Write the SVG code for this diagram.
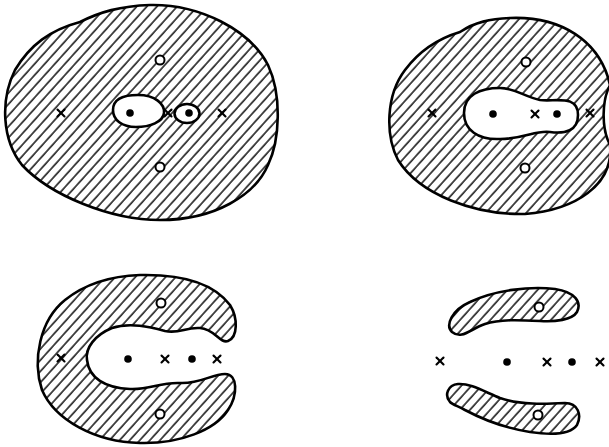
<svg xmlns="http://www.w3.org/2000/svg" xmlns:xlink="http://www.w3.org/1999/xlink" width="609" height="447" viewBox="0 0 609 447">
<defs>
<pattern id="hatch" patternUnits="userSpaceOnUse" width="7.5" height="10" patternTransform="rotate(42)">
<rect width="7.5" height="10" fill="#fff"/>
<line x1="1" y1="0" x2="1" y2="10" stroke="#000" stroke-width="1.4"/>
</pattern>
<g id="cross"><line x1="-3.5" y1="-3.5" x2="3.5" y2="3.5"/><line x1="-3.5" y1="3.5" x2="3.5" y2="-3.5"/></g>
<circle id="dot" r="3.8"/>
<circle id="ring" r="4.5"/>
</defs>
<style>
.region{fill:url(#hatch);stroke:#000;stroke-width:2.6;stroke-linejoin:round}
.hole{fill:#fff;stroke:#000;stroke-width:2.6}
.x{stroke:#000;stroke-width:2.1;stroke-linecap:round}
.d{fill:#000}
.o{fill:#fff;stroke:#000;stroke-width:2}
</style>
<g id="fig-top-left">
<path class="region" d="M 150 5 C 200 4, 250 30, 268 65 C 282 95, 280 140, 268 165 C 255 195, 215 220, 160 220 C 110 220, 50 195, 22 165 C 2 140, 0 100, 15 70 C 30 45, 50 30, 80 22 C 100 12, 120 6, 150 5 Z"/>
<path class="hole" d="M 113 110 C 113 98, 125 95, 138 95 C 155 95, 165 104, 164 113 C 163 122, 150 127, 136 127 C 122 127, 113 120, 113 110 Z"/>
<ellipse class="hole" cx="187" cy="113.5" rx="12.5" ry="9.5"/>
<use href="#dot" class="d" x="130" y="113"/>
<use href="#dot" class="d" x="189" y="113"/>
<use href="#cross" class="x" x="61" y="113"/>
<use href="#cross" class="x" x="168" y="113"/>
<use href="#cross" class="x" x="222" y="113"/>
<use href="#ring" class="o" x="160" y="60"/>
<use href="#ring" class="o" x="160" y="167"/>
</g>
<g id="fig-top-right">
<path class="region" d="M 510 18 C 560 16, 600 40, 610 85 C 602 100, 601 128, 610 145 C 614 185, 575 210, 525 214 C 475 215, 420 195, 398 160 C 385 135, 386 95, 405 70 C 420 50, 440 38, 460 32 C 475 22, 490 19, 510 18 Z"/>
<path class="hole" d="M 464 113 C 464 95, 480 88, 500 88 C 515 88, 525 97, 540 100 C 555 102, 578 94, 578 115 C 578 131, 565 134, 550 132 C 535 130, 525 139, 500 139 C 478 140, 464 130, 464 113 Z"/>
<use href="#dot" class="d" x="493" y="114"/>
<use href="#dot" class="d" x="557" y="114"/>
<use href="#cross" class="x" x="535" y="114"/>
<use href="#cross" class="x" x="432" y="113"/>
<use href="#cross" class="x" x="590" y="113"/>
<use href="#ring" class="o" x="526" y="62"/>
<use href="#ring" class="o" x="525" y="168"/>
</g>
<g id="fig-bottom-left">
<path class="region" d="M 140 275 C 185 274, 215 285, 230 305 C 238 318, 238 337, 228 341 C 220 344, 215 329, 200 328 C 185 327, 180 334, 165 331 C 150 327, 130 322, 112 328 C 95 335, 85 348, 87 360 C 89 378, 105 388, 130 389 C 150 390, 160 382, 180 383 C 200 384, 212 374, 225 374 C 238 374, 238 395, 228 410 C 215 430, 180 444, 140 443 C 95 442, 55 420, 42 390 C 32 360, 40 320, 65 300 C 85 284, 110 276, 140 275 Z"/>
<use href="#dot" class="d" x="128" y="359"/>
<use href="#dot" class="d" x="192" y="359"/>
<use href="#cross" class="x" x="61" y="358"/>
<use href="#cross" class="x" x="165" y="359"/>
<use href="#cross" class="x" x="217" y="359"/>
<use href="#ring" class="o" x="161" y="303"/>
<use href="#ring" class="o" x="160" y="414"/>
</g>
<g id="fig-bottom-right">
<path class="region" d="M 452 332 C 445 325, 452 310, 470 302 C 495 290, 530 286, 555 289 C 575 292, 582 302, 577 312 C 572 320, 555 322, 540 321 C 520 320, 500 319, 485 324 C 470 329, 462 340, 452 332 Z"/>
<path class="region" d="M 450 402 C 444 395, 448 385, 458 384 C 470 383, 485 392, 500 398 C 520 405, 545 404, 565 403 C 578 403, 582 415, 577 425 C 570 435, 550 435, 530 432 C 505 428, 480 418, 465 410 C 458 406, 453 405, 450 402 Z"/>
<use href="#ring" class="o" x="539" y="307"/>
<use href="#ring" class="o" x="538" y="415"/>
<use href="#dot" class="d" x="507" y="362"/>
<use href="#dot" class="d" x="572" y="362"/>
<use href="#cross" class="x" x="440" y="361"/>
<use href="#cross" class="x" x="547" y="362"/>
<use href="#cross" class="x" x="600" y="362"/>
</g>
</svg>
